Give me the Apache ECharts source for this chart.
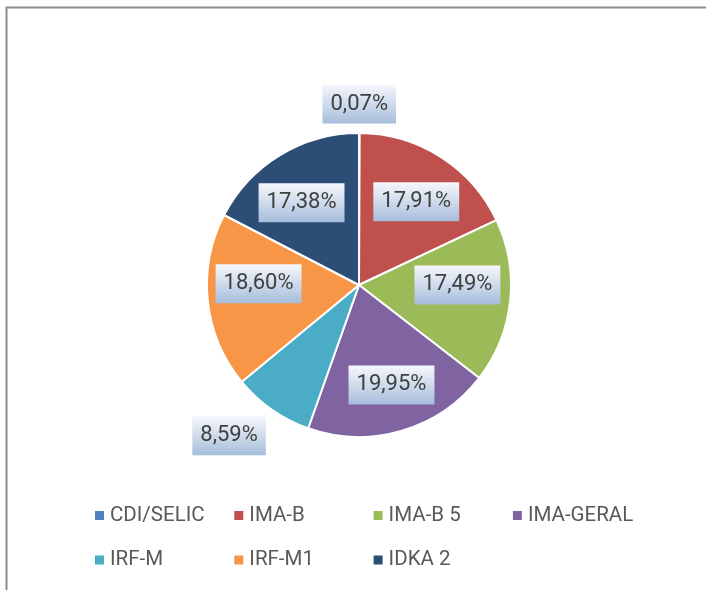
<!DOCTYPE html>
<html>
<head>
<meta charset="utf-8">
<script src="https://cdn.jsdelivr.net/npm/echarts@6/dist/echarts.min.js"></script>
<style>
  html, body { margin: 0; padding: 0; background: #ffffff; }
  #chart { width: 706px; height: 590px; }
</style>
</head>
<body>
<div id="chart"></div>
<script>
// ---- data ----
const categories = ['CDI/SELIC', 'IMA-B', 'IMA-B 5', 'IMA-GERAL', 'IRF-M', 'IRF-M1', 'IDKA 2'];
const values = [0.07, 17.91, 17.49, 19.95, 8.59, 18.60, 17.38];
const colors = ['#4f81bd', '#c0504d', '#9bbb59', '#8064a2', '#4bacc6', '#f79646', '#2c4d75'];

// label nudges (styling only)
const labelOffsets = [[0, -80], [3, 2], [-2, -11], [4, 3], [-72, 68], [0, -12], [-5, 4]];

const FONT = "Roboto, sans-serif";

const fmt = v => v.toFixed(2).replace('.', ',') + '%';

const labelBg = {
  type: 'linear', x: 0, y: 0, x2: 0, y2: 1,
  colorStops: [
    { offset: 0, color: '#f5f7fb' },
    { offset: 0.55, color: '#cbd8ea' },
    { offset: 1, color: '#a6bddb' }
  ]
};

const mainData = categories.map((c, i) => ({ name: c, value: values[i], itemStyle: { color: colors[i] } }));
const labelData = categories.map((c, i) => ({
  name: c, value: values[i],
  label: { offset: labelOffsets[i] }
}));

const chart = echarts.init(document.getElementById('chart'), null, { renderer: 'canvas' });
chart.setOption({
  animation: false,
  backgroundColor: '#ffffff',
  graphic: [{
    type: 'polyline',
    shape: { points: [[6.5, 590], [6.5, 7.5], [706, 7.5]] },
    style: { stroke: '#8c8c8c', lineWidth: 2, fill: null },
    z: 100
  }],
  legend: {
    data: categories,
    left: 93,
    top: 501,
    width: 560,
    padding: 0,
    itemGap: 15.3,
    itemWidth: 11,
    itemHeight: 11,
    icon: 'rect',
    textStyle: {
      fontFamily: FONT,
      fontSize: 20.5,
      lineHeight: 29.2,
      color: '#595959',
      width: 107
    }
  },
  series: [
    {
      type: 'pie',
      center: [359, 285],
      radius: [0, 152],
      startAngle: 90,
      clockwise: true,
      silent: true,
      data: mainData,
      itemStyle: { borderColor: '#ffffff', borderWidth: 2 },
      label: { show: false },
      labelLine: { show: false }
    },
    {
      type: 'pie',
      center: [359, 285],
      radius: [44, 152],
      startAngle: 90,
      clockwise: true,
      silent: true,
      data: labelData,
      itemStyle: { color: 'rgba(0,0,0,0)', borderWidth: 0 },
      labelLine: { show: false },
      label: {
        show: true,
        position: 'inside',
        formatter: p => fmt(p.value),
        fontFamily: FONT,
        fontSize: 22,
        lineHeight: 29,
        color: '#404040',
        padding: [5, 8, 5, 8],
        backgroundColor: labelBg
      }
    }
  ]
});
</script>
</body>
</html>
